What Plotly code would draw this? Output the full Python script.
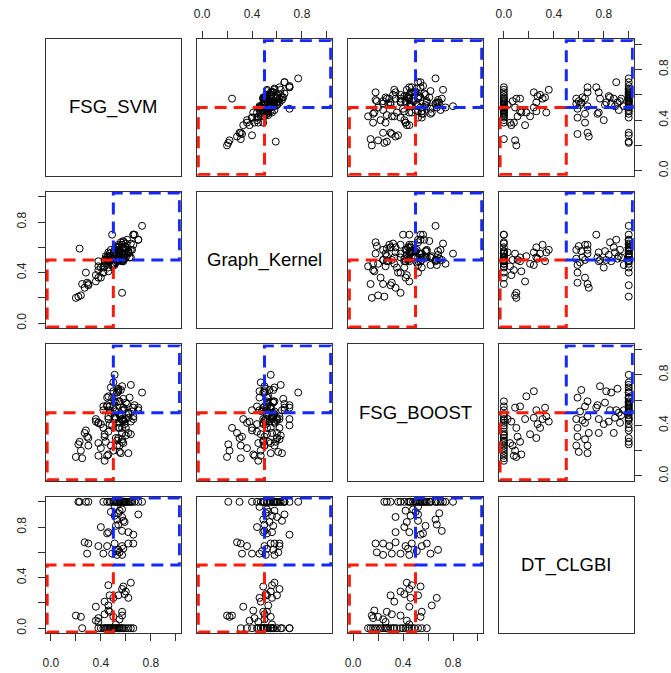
import plotly.graph_objects as go

# Variable names shown on the diagonal of the scatterplot matrix
names = ["FSG_SVM", "Graph_Kernel", "FSG_BOOST", "DT_CLGBI"]

# Per-item scores of the four methods
fsg_svm = [
    0.25, 0.38, 0.40, 0.42, 0.44, 0.45, 0.46, 0.47, 0.48, 0.49, 0.50, 0.51,
    0.52, 0.53, 0.54, 0.55, 0.56, 0.57, 0.58, 0.60, 0.62, 0.64, 0.66, 0.43,
    0.52, 0.38, 0.36, 0.55, 0.38, 0.24, 0.50, 0.20, 0.57, 0.43, 0.57, 0.47,
    0.46, 0.36, 0.46, 0.43, 0.62, 0.50, 0.54, 0.47, 0.59, 0.60, 0.57, 0.58,
    0.46, 0.64,
    0.57, 0.53, 0.49, 0.42, 0.29, 0.55, 0.52, 0.54, 0.58, 0.57, 0.45, 0.38,
    0.66, 0.62, 0.51, 0.30, 0.27, 0.66, 0.45, 0.62, 0.57, 0.46, 0.40, 0.52,
    0.54, 0.59, 0.58, 0.53, 0.57, 0.51, 0.70, 0.54, 0.48, 0.55, 0.57, 0.51,
    0.22, 0.23, 0.28, 0.30, 0.42, 0.45, 0.47, 0.48, 0.50, 0.51, 0.52, 0.53,
    0.54, 0.55, 0.55, 0.56, 0.57, 0.58, 0.58, 0.59, 0.60, 0.60, 0.61, 0.62,
    0.63, 0.64, 0.65, 0.67, 0.70, 0.73,
]
graph_kernel = [
    0.31, 0.49, 0.36, 0.40, 0.53, 0.47, 0.44, 0.55, 0.50, 0.70, 0.47, 0.56,
    0.60, 0.49, 0.57, 0.52, 0.64, 0.50, 0.55, 0.63, 0.57, 0.52, 0.70, 0.45,
    0.56, 0.45, 0.38, 0.50, 0.42, 0.22, 0.55, 0.20, 0.24, 0.50, 0.49, 0.52,
    0.41, 0.33, 0.53, 0.47, 0.56, 0.46, 0.60, 0.52, 0.51, 0.55, 0.62, 0.49,
    0.56, 0.58,
    0.51, 0.58, 0.46, 0.40, 0.32, 0.61, 0.48, 0.57, 0.52, 0.62, 0.50, 0.36,
    0.62, 0.55, 0.58, 0.31, 0.28, 0.70, 0.52, 0.56, 0.50, 0.49, 0.44, 0.57,
    0.50, 0.54, 0.64, 0.49, 0.60, 0.56, 0.66, 0.51, 0.53, 0.58, 0.52, 0.46,
    0.21, 0.59, 0.40, 0.30, 0.44, 0.52, 0.49, 0.58, 0.47, 0.55, 0.60, 0.50,
    0.62, 0.52, 0.57, 0.54, 0.49, 0.60, 0.65, 0.55, 0.52, 0.60, 0.66, 0.57,
    0.52, 0.63, 0.58, 0.70, 0.66, 0.77,
]
fsg_boost = [
    0.14, 0.42, 0.22, 0.52, 0.27, 0.16, 0.35, 0.55, 0.24, 0.40, 0.20, 0.47,
    0.30, 0.28, 0.59, 0.38, 0.18, 0.44, 0.26, 0.32, 0.49, 0.33, 0.45, 0.12,
    0.45, 0.26, 0.43, 0.24, 0.16, 0.20, 0.54, 0.15, 0.38, 0.31, 0.27, 0.55,
    0.17, 0.45, 0.63, 0.33, 0.46, 0.67, 0.30, 0.52, 0.41, 0.38, 0.45, 0.54,
    0.47, 0.43,
    0.45, 0.24, 0.62, 0.38, 0.31, 0.19, 0.51, 0.68, 0.44, 0.29, 0.55, 0.42,
    0.47, 0.18, 0.59, 0.24, 0.34, 0.54, 0.56, 0.34, 0.71, 0.45, 0.41, 0.58,
    0.67, 0.43, 0.52, 0.66, 0.34, 0.46, 0.52, 0.69, 0.50, 0.42, 0.48, 0.52,
    0.25, 0.27, 0.36, 0.30, 0.55, 0.62, 0.41, 0.70, 0.74, 0.80, 0.46, 0.66,
    0.38, 0.59, 0.48, 0.68, 0.52, 0.44, 0.61, 0.53, 0.58, 0.45, 0.57, 0.50,
    0.62, 0.72, 0.51, 0.56, 0.54, 0.66,
]
dt_clgbi = [
    0.00, 0.00, 0.00, 0.00, 0.00, 0.00, 0.00, 0.00, 0.00, 0.00, 0.00, 0.00,
    0.00, 0.00, 0.00, 0.00, 0.00, 0.00, 0.00, 0.00, 0.00, 0.00, 0.00, 0.00,
    0.03, 0.05, 0.06, 0.07, 0.08, 0.09, 0.09, 0.10, 0.10, 0.11, 0.13, 0.13,
    0.14, 0.17, 0.18, 0.21, 0.24, 0.24, 0.26, 0.26, 0.27, 0.29, 0.31, 0.33,
    0.34, 0.36,
    0.58, 0.58, 0.59, 0.59, 0.59, 0.60, 0.61, 0.62, 0.63, 0.65, 0.65, 0.65,
    0.67, 0.67, 0.67, 0.67, 0.68, 0.74, 0.75, 0.76, 0.77, 0.76, 0.80, 0.81,
    0.82, 0.84, 0.85, 0.86, 0.88, 0.89, 0.90, 0.91, 0.92, 0.93, 0.94, 0.96,
    1.00, 1.00, 1.00, 1.00, 1.00, 1.00, 1.00, 1.00, 1.00, 1.00, 1.00, 1.00,
    1.00, 1.00, 1.00, 1.00, 1.00, 1.00, 1.00, 1.00, 1.00, 1.00, 1.00, 1.00,
    1.00, 1.00, 1.00, 1.00, 1.00, 1.00,
]

tick_vals = [0.0, 0.2, 0.4, 0.6, 0.8, 1.0]
tick_text = ["0.0", "", "0.4", "", "0.8", ""]

columns = [fsg_svm, graph_kernel, fsg_boost, dt_clgbi]

# Panel geometry in pixels
W, H = 671, 673
col_left = [43.5, 196.7, 349.8, 502.6]
row_top = [39.3, 192.0, 345.0, 497.5]
box = 136.7
axis_range = [-0.04, 1.04]

FONT = "Liberation Sans, Arial, Helvetica, sans-serif"
LINE = "#333333"
RED = "#ff1a0a"
BLUE = "#1428ff"
DASH = "12px,7px"

fig = go.Figure()
layout = dict(
    width=W, height=H, autosize=False,
    margin=dict(l=0, r=0, t=0, b=0),
    paper_bgcolor="white", plot_bgcolor="white",
    showlegend=False,
    font=dict(family=FONT, size=12, color="#222222"),
)
shapes, annotations = [], []

for i in range(4):
    for j in range(4):
        k = i * 4 + j + 1
        sfx = "" if k == 1 else str(k)
        x0 = col_left[j] / W
        x1 = (col_left[j] + box) / W
        y1 = 1 - row_top[i] / H
        y0 = 1 - (row_top[i] + box) / H

        xa = dict(domain=[x0, x1], range=axis_range, anchor="y" + sfx,
                  showgrid=False, zeroline=False, showline=True, mirror=True,
                  linecolor=LINE, linewidth=1, ticks="", showticklabels=False,
                  fixedrange=True)
        ya = dict(domain=[y0, y1], range=axis_range, anchor="x" + sfx,
                  showgrid=False, zeroline=False, showline=True, mirror=True,
                  linecolor=LINE, linewidth=1, ticks="", showticklabels=False,
                  fixedrange=True)

        tick_style = dict(ticks="outside", ticklen=7, tickwidth=1, tickcolor=LINE,
                          tickvals=tick_vals, ticktext=tick_text,
                          showticklabels=True,
                          tickfont=dict(family=FONT, size=12, color="#222222"))
        # alternating axes, as in a classic pairs plot
        if i == 0 and j % 2 == 1:
            xa.update(tick_style, side="top", ticklabelstandoff=8)
        if i == 3 and j % 2 == 0:
            xa.update(tick_style, side="bottom", ticklabelstandoff=11)
        if j == 0 and i % 2 == 1:
            ya.update(tick_style, side="left", tickangle=-90, ticklabelstandoff=7)
        if j == 3 and i % 2 == 0:
            ya.update(tick_style, side="right", tickangle=-90, ticklabelstandoff=12)

        layout["xaxis" + sfx] = xa
        layout["yaxis" + sfx] = ya

        if i == j:
            # empty panel holding the variable name
            fig.add_trace(go.Scatter(x=[None], y=[None], mode="markers",
                                     xaxis="x" + sfx, yaxis="y" + sfx,
                                     hoverinfo="skip"))
            annotations.append(dict(
                x=(x0 + x1) / 2, y=(y0 + y1) / 2, xref="paper", yref="paper",
                xanchor="center", yanchor="middle",
                text=names[i], showarrow=False,
                font=dict(family=FONT, size=18.5, color="black")))
            continue

        fig.add_trace(go.Scatter(
            x=columns[j], y=columns[i], mode="markers",
            xaxis="x" + sfx, yaxis="y" + sfx,
            marker=dict(symbol="circle-open", size=7, color="black",
                        line=dict(width=1, color="black")),
            hoverinfo="skip", cliponaxis=True))

        # low/low and high/high quadrants
        shapes.append(dict(type="rect", xref="x" + sfx, yref="y" + sfx,
                           x0=-0.03, y0=-0.03, x1=0.5, y1=0.5,
                           line=dict(color=RED, width=3, dash=DASH),
                           fillcolor="rgba(0,0,0,0)", layer="above"))
        shapes.append(dict(type="rect", xref="x" + sfx, yref="y" + sfx,
                           x0=0.5, y0=0.5, x1=1.03, y1=1.03,
                           line=dict(color=BLUE, width=3, dash=DASH),
                           fillcolor="rgba(0,0,0,0)", layer="above"))

layout["shapes"] = shapes
layout["annotations"] = annotations
fig.update_layout(**layout)

fig.write_html("out.html")
